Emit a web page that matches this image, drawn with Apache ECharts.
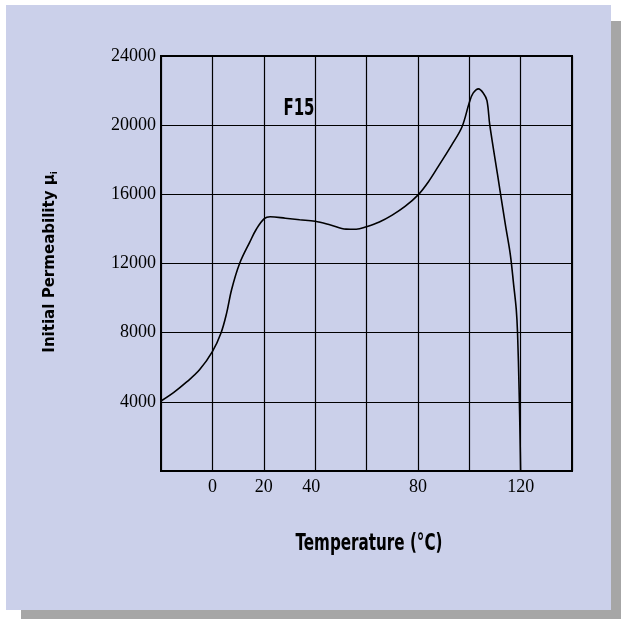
<!DOCTYPE html>
<html>
<head>
<meta charset="utf-8">
<script src="https://cdn.jsdelivr.net/npm/echarts@6/dist/echarts.min.js"></script>
<style>html,body{margin:0;padding:0;background:#fff;}#c{width:621px;height:619px;}</style>
</head>
<body>
<div id="c"></div>
<script>
const temperature = [-20, -15, -10, -5, 0, 3.4, 5.5, 7.5, 10.6, 14.6, 17.1, 20.2, 22.5, 28.4, 34, 40, 46, 52, 56, 60, 65, 70, 75, 80.3, 84, 87.9, 93.2, 97.2, 100, 101.5, 103.6, 105.5, 106.9, 108, 111, 114, 116, 117.3, 118.3, 118.8, 119.4, 119.8, 120];
const permeability = [4050, 4550, 5150, 5850, 6900, 8000, 9100, 10500, 12000, 13250, 13980, 14590, 14700, 14620, 14530, 14440, 14230, 13990, 13980, 14130, 14400, 14800, 15300, 16000, 16700, 17600, 18860, 19910, 21300, 21850, 22100, 21850, 21420, 20000, 17150, 14300, 12500, 10750, 9350, 8000, 4750, 1800, 0];
const xTickLabels = {0: '0', 20: '20', 40: '40', 80: '80', 120: '120'};
const yTickLabels = [4000, 8000, 12000, 16000, 20000, 24000];

const chart = echarts.init(document.getElementById('c'), null, {renderer: 'canvas'});
const series = temperature.map((t, i) => [t, permeability[i]]);
const heavy = '"DejaVu Sans", sans-serif';
chart.setOption({
  animation: false,
  graphic: [
    {type: 'rect', z: -10, silent: true, shape: {x: 21, y: 21, width: 600, height: 598}, style: {fill: '#a6a6a6'}},
    {type: 'rect', z: -9, silent: true, shape: {x: 6, y: 5, width: 605, height: 605}, style: {fill: '#cbd0ea'}},
    {type: 'text', z: 10, x: 299, y: 109, scaleX: 0.65, style: {text: 'F15', font: 'bold 23px ' + heavy, fill: '#000', textAlign: 'center', textVerticalAlign: 'middle'}},
    {type: 'text', z: 10, x: 369, y: 544, scaleX: 0.66, style: {text: 'Temperature (°C)', font: 'bold 23px ' + heavy, fill: '#000', textAlign: 'center', textVerticalAlign: 'middle'}},
    {type: 'text', z: 10, x: 50, y: 262, rotation: Math.PI / 2, scaleX: 0.94, style: {text: 'Initial Permeability μ{s|i}', font: 'bold 16px ' + heavy, fill: '#000', textAlign: 'center', textVerticalAlign: 'middle', rich: {s: {font: 'bold 9px ' + heavy, fill: '#000', padding: [9, 0, 0, 0]}}}}
  ],
  grid: {left: 161, top: 56, right: 49, bottom: 148, show: true, borderColor: '#000', borderWidth: 2, backgroundColor: 'transparent'},
  xAxis: {
    type: 'value', min: -20, max: 140, interval: 20,
    axisLine: {show: true, onZero: false, lineStyle: {color: '#000', width: 2}},
    axisTick: {show: false},
    splitLine: {show: true, lineStyle: {color: '#000', width: 1.2}},
    axisLabel: {
      color: '#000', fontFamily: 'Liberation Serif', fontSize: 18, margin: 7,
      formatter: v => v === 40 ? '{a|40}' : (xTickLabels[v] !== undefined ? xTickLabels[v] : ''),
      rich: {a: {color: '#000', fontFamily: 'Liberation Serif', fontSize: 18, padding: [0, 8, 0, 0]}}
    }
  },
  yAxis: {
    type: 'value', min: 0, max: 24000, interval: 4000,
    axisLine: {show: true, onZero: false, lineStyle: {color: '#000', width: 2}},
    axisTick: {show: false},
    splitLine: {show: true, lineStyle: {color: '#000', width: 1.2}},
    axisLabel: {
      color: '#000', fontFamily: 'Liberation Serif', fontSize: 18, margin: 5,
      formatter: v => yTickLabels.indexOf(v) >= 0 ? String(v) : ''
    }
  },
  series: [{
    type: 'line', data: series, smooth: 0.35, showSymbol: false,
    lineStyle: {color: '#000', width: 1.6}
  }]
});
</script>
</body>
</html>
